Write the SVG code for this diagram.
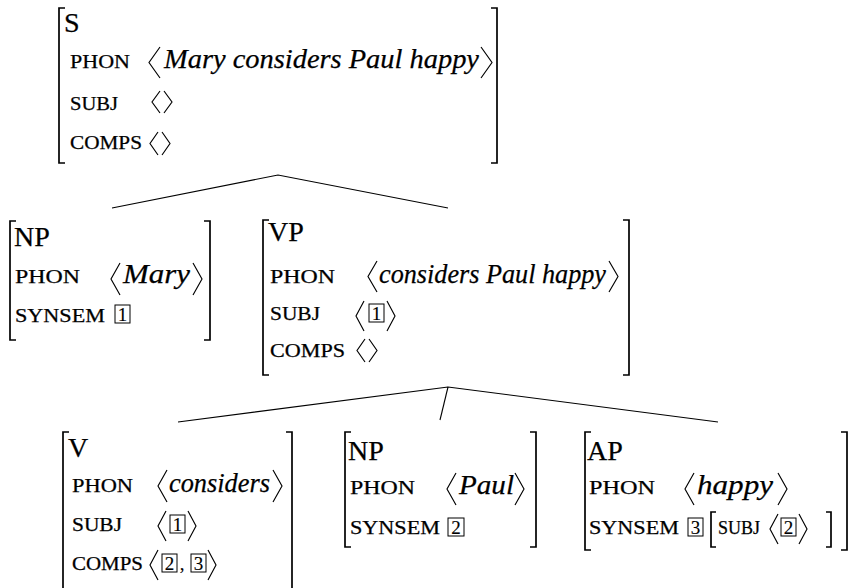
<svg xmlns="http://www.w3.org/2000/svg" width="851" height="588" viewBox="0 0 851 588">
<style>
.br{fill:none;stroke:#000;stroke-width:1.7}
.ang{fill:none;stroke:#000;stroke-width:1.15;stroke-linejoin:miter}
.tag{fill:none;stroke:#000;stroke-width:1}
.edge{fill:none;stroke:#000;stroke-width:1.1}
text{font-family:"Liberation Serif","DejaVu Serif",serif;fill:#000;stroke:#000;stroke-width:0.25}
.lbl{font-size:28px}
.sc{font-size:18.5px}
.it{font-size:28px;font-style:italic}
.num{font-size:19px;text-anchor:middle;stroke-width:0.15}
</style>
<rect width="851" height="588" fill="#fff"/>
<g id="connectors">
<polyline class="edge" points="112,208 278,175 448,208"/>
<polyline class="edge" points="178,422 448,387 718,422"/>
<line class="edge" x1="448" y1="387" x2="440" y2="420"/>
</g>
<g id="node-S">
<path class="br" d="M65,8 H59 V163 H65"/>
<path class="br" d="M491,8 H497 V163 H491"/>
<text class="lbl" x="64" y="32">S</text>
<text class="sc" x="70" y="68" textLength="60" lengthAdjust="spacingAndGlyphs">PHON</text>
<polyline class="ang" points="160,47 149,62.5 160,78"/>
<text class="it" x="164" y="68" textLength="315" lengthAdjust="spacingAndGlyphs">Mary considers Paul happy</text>
<polyline class="ang" points="481,47 492,62.5 481,78"/>
<text class="sc" x="70" y="110" textLength="48" lengthAdjust="spacingAndGlyphs">SUBJ</text>
<polyline class="ang" points="160,91 152,102 160,113"/>
<polyline class="ang" points="164,91 172,102 164,113"/>
<text class="sc" x="70" y="149" textLength="72" lengthAdjust="spacingAndGlyphs">COMPS</text>
<polyline class="ang" points="158,132 150,143.5 158,155"/>
<polyline class="ang" points="162,132 170,143.5 162,155"/>
</g>
<g id="node-NP-Mary">
<path class="br" d="M16,221 H10 V340 H16"/>
<path class="br" d="M204,221 H210 V340 H204"/>
<text class="lbl" x="14" y="246">NP</text>
<text class="sc" x="15" y="283" textLength="65" lengthAdjust="spacingAndGlyphs">PHON</text>
<polyline class="ang" points="120,263 111,279 120,295"/>
<text class="it" x="123" y="283" textLength="67" lengthAdjust="spacingAndGlyphs">Mary</text>
<polyline class="ang" points="193,263 202,279 193,295"/>
<text class="sc" x="15" y="322" textLength="90" lengthAdjust="spacingAndGlyphs">SYNSEM</text>
<rect class="tag" x="115" y="305" width="15" height="18"/>
<text class="num" x="122.5" y="321">1</text>
</g>
<g id="node-VP">
<path class="br" d="M269,220 H263 V375 H269"/>
<path class="br" d="M623,220 H629 V375 H623"/>
<text class="lbl" x="268" y="241">VP</text>
<text class="sc" x="270" y="283" textLength="65" lengthAdjust="spacingAndGlyphs">PHON</text>
<polyline class="ang" points="377,261 368,276.5 377,292"/>
<text class="it" x="379" y="283" textLength="227" lengthAdjust="spacingAndGlyphs">considers Paul happy</text>
<polyline class="ang" points="609,261 618,276.5 609,292"/>
<text class="sc" x="270" y="320" textLength="50" lengthAdjust="spacingAndGlyphs">SUBJ</text>
<polyline class="ang" points="364,301 356,316 364,331"/>
<rect class="tag" x="369" y="304" width="15" height="18"/>
<text class="num" x="376.5" y="320">1</text>
<polyline class="ang" points="387,301 395,316 387,331"/>
<text class="sc" x="270" y="357" textLength="75" lengthAdjust="spacingAndGlyphs">COMPS</text>
<polyline class="ang" points="365,339 357,350.5 365,362"/>
<polyline class="ang" points="369,339 377,350.5 369,362"/>
</g>
<g id="node-V">
<path class="br" d="M69,432 H63 V592 H69"/>
<path class="br" d="M286,432 H292 V592 H286"/>
<text class="lbl" x="68" y="457">V</text>
<text class="sc" x="72" y="492" textLength="61" lengthAdjust="spacingAndGlyphs">PHON</text>
<polyline class="ang" points="167,470 158,486 167,502"/>
<text class="it" x="169" y="492" textLength="101" lengthAdjust="spacingAndGlyphs">considers</text>
<polyline class="ang" points="273,470 282,486 273,502"/>
<text class="sc" x="72" y="531" textLength="50" lengthAdjust="spacingAndGlyphs">SUBJ</text>
<polyline class="ang" points="166,511 158,526 166,541"/>
<rect class="tag" x="170" y="515" width="15" height="18"/>
<text class="num" x="177.5" y="531">1</text>
<polyline class="ang" points="188,511 196,526 188,541"/>
<text class="sc" x="72" y="570" textLength="71" lengthAdjust="spacingAndGlyphs">COMPS</text>
<polyline class="ang" points="158,550 150,565 158,580"/>
<rect class="tag" x="162" y="554" width="15" height="18"/>
<text class="num" x="169.5" y="570">2</text>
<text class="num" x="182" y="570">,</text>
<rect class="tag" x="191" y="554" width="15" height="18"/>
<text class="num" x="198.5" y="570">3</text>
<polyline class="ang" points="208,550 216,565 208,580"/>
</g>
<g id="node-NP-Paul">
<path class="br" d="M351,432 H345 V547 H351"/>
<path class="br" d="M530,432 H536 V547 H530"/>
<text class="lbl" x="348" y="460">NP</text>
<text class="sc" x="350" y="494" textLength="65" lengthAdjust="spacingAndGlyphs">PHON</text>
<polyline class="ang" points="456,473 447,489 456,505"/>
<text class="it" x="459" y="494" textLength="55" lengthAdjust="spacingAndGlyphs">Paul</text>
<polyline class="ang" points="515,473 524,489 515,505"/>
<text class="sc" x="350" y="534" textLength="90" lengthAdjust="spacingAndGlyphs">SYNSEM</text>
<rect class="tag" x="448" y="518" width="16" height="18"/>
<text class="num" x="456" y="534">2</text>
</g>
<g id="node-AP">
<path class="br" d="M591,432 H585 V550 H591"/>
<path class="br" d="M841,432 H847 V550 H841"/>
<text class="lbl" x="587" y="460">AP</text>
<text class="sc" x="589" y="494" textLength="66" lengthAdjust="spacingAndGlyphs">PHON</text>
<polyline class="ang" points="694,473 685,489 694,505"/>
<text class="it" x="697" y="494" textLength="76" lengthAdjust="spacingAndGlyphs">happy</text>
<polyline class="ang" points="778,473 787,489 778,505"/>
<text class="sc" x="589" y="534" textLength="90" lengthAdjust="spacingAndGlyphs">SYNSEM</text>
<rect class="tag" x="688" y="518" width="15" height="18"/>
<text class="num" x="695.5" y="534">3</text>
<path class="br" d="M716,512 H711 V547 H716"/>
<text class="sc" x="718" y="534" textLength="42" lengthAdjust="spacingAndGlyphs">SUBJ</text>
<polyline class="ang" points="778,514 770,529 778,544"/>
<rect class="tag" x="781" y="518" width="15" height="18"/>
<text class="num" x="788.5" y="534">2</text>
<polyline class="ang" points="799,514 807,529 799,544"/>
<path class="br" d="M826,512 H831 V547 H826"/>
</g>
</svg>
